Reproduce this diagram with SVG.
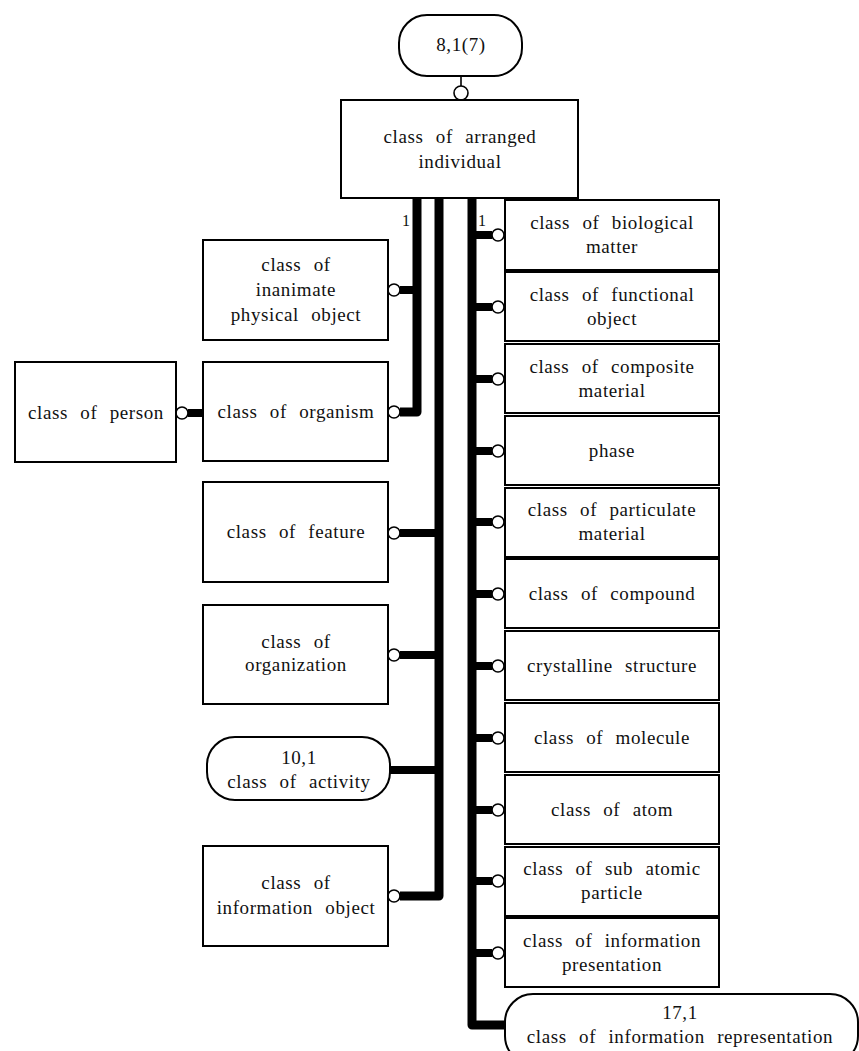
<svg xmlns="http://www.w3.org/2000/svg" width="859" height="1051" viewBox="0 0 859 1051">
<style>
.box{fill:#fff;stroke:#000;stroke-width:2}
.t{font-family:"Liberation Serif","Times New Roman",serif;font-size:19px;fill:#111;letter-spacing:0.6px;word-spacing:7px;text-anchor:middle}
.n{font-family:"Liberation Serif","Times New Roman",serif;font-size:16px;fill:#111}
.bar{fill:none;stroke:#000;stroke-width:9;stroke-linejoin:round;stroke-linecap:butt}
.stub{fill:none;stroke:#000;stroke-width:8;stroke-linecap:butt}
.ring{fill:#fff;stroke:#000;stroke-width:1.6}
</style>
<rect width="859" height="1051" fill="#fff"/>

<g id="connectors">
  <line x1="461" y1="76" x2="461" y2="86" stroke="#000" stroke-width="1.6"/>
  <circle class="ring" cx="461" cy="93" r="7"/>
  <path class="bar" d="M417,198 V412 H400"/>
  <path class="bar" d="M439,198 V896 H400"/>
  <path class="bar" d="M472,198 V1025 H505"/>
  <line class="stub" x1="417" y1="290" x2="400" y2="290"/>
  <line class="stub" x1="439" y1="533" x2="400" y2="533"/>
  <line class="stub" x1="439" y1="655" x2="400" y2="655"/>
  <line class="stub" x1="439" y1="770" x2="390" y2="770"/>
  <line class="stub" x1="188" y1="413" x2="202" y2="413" stroke-linecap="round"/>
  <g id="right-stubs">
    <line class="stub" x1="472" y1="235" x2="492" y2="235"/>
    <line class="stub" x1="472" y1="307" x2="492" y2="307"/>
    <line class="stub" x1="472" y1="379" x2="492" y2="379"/>
    <line class="stub" x1="472" y1="451" x2="492" y2="451"/>
    <line class="stub" x1="472" y1="522" x2="492" y2="522"/>
    <line class="stub" x1="472" y1="594" x2="492" y2="594"/>
    <line class="stub" x1="472" y1="666" x2="492" y2="666"/>
    <line class="stub" x1="472" y1="738" x2="492" y2="738"/>
    <line class="stub" x1="472" y1="810" x2="492" y2="810"/>
    <line class="stub" x1="472" y1="881" x2="492" y2="881"/>
    <line class="stub" x1="472" y1="953" x2="492" y2="953"/>
  </g>
  <g id="rings">
    <circle class="ring" cx="394" cy="290" r="6"/>
    <circle class="ring" cx="394" cy="412" r="6"/>
    <circle class="ring" cx="394" cy="533" r="6"/>
    <circle class="ring" cx="394" cy="655" r="6"/>
    <circle class="ring" cx="394" cy="896" r="6"/>
    <circle class="ring" cx="182" cy="413" r="6"/>
    <circle class="ring" cx="498" cy="235" r="6"/>
    <circle class="ring" cx="498" cy="307" r="6"/>
    <circle class="ring" cx="498" cy="379" r="6"/>
    <circle class="ring" cx="498" cy="451" r="6"/>
    <circle class="ring" cx="498" cy="522" r="6"/>
    <circle class="ring" cx="498" cy="594" r="6"/>
    <circle class="ring" cx="498" cy="666" r="6"/>
    <circle class="ring" cx="498" cy="738" r="6"/>
    <circle class="ring" cx="498" cy="810" r="6"/>
    <circle class="ring" cx="498" cy="881" r="6"/>
    <circle class="ring" cx="498" cy="953" r="6"/>
  </g>
  <text class="n" x="402" y="226">1</text>
  <text class="n" x="478" y="226">1</text>
</g>

<g id="n-top"><rect class="box" x="399" y="15" width="123" height="61" rx="28"/><text class="t" x="461" y="51">8,1(7)</text></g>
<g id="n-arranged"><rect class="box" x="341" y="100" width="237" height="98"/><text class="t" x="460" y="143">class of arranged</text><text class="t" x="460" y="168">individual</text></g>

<g id="n-inanimate"><rect class="box" x="203" y="240" width="185" height="100"/><text class="t" x="296" y="271">class of</text><text class="t" x="296" y="296">inanimate</text><text class="t" x="296" y="321">physical object</text></g>
<g id="n-organism"><rect class="box" x="203" y="362" width="185" height="99"/><text class="t" x="296" y="418">class of organism</text></g>
<g id="n-person"><rect class="box" x="15" y="362" width="161" height="100"/><text class="t" x="96" y="419">class of person</text></g>
<g id="n-feature"><rect class="box" x="203" y="482" width="185" height="100"/><text class="t" x="296" y="538">class of feature</text></g>
<g id="n-organization"><rect class="box" x="203" y="605" width="185" height="99"/><text class="t" x="296" y="648">class of</text><text class="t" x="296" y="671">organization</text></g>
<g id="n-activity"><rect class="box" x="207" y="737" width="183" height="63" rx="28"/><text class="t" x="299" y="764">10,1</text><text class="t" x="299" y="788">class of activity</text></g>
<g id="n-infoobject"><rect class="box" x="203" y="846" width="185" height="100"/><text class="t" x="296" y="889">class of</text><text class="t" x="296" y="914">information object</text></g>

<g id="n-biological"><rect class="box" x="505" y="200" width="214" height="70"/><text class="t" x="612" y="229">class of biological</text><text class="t" x="612" y="253">matter</text></g>
<g id="n-functional"><rect class="box" x="505" y="272" width="214" height="69"/><text class="t" x="612" y="301">class of functional</text><text class="t" x="612" y="325">object</text></g>
<g id="n-composite"><rect class="box" x="505" y="344" width="214" height="69"/><text class="t" x="612" y="373">class of composite</text><text class="t" x="612" y="397">material</text></g>
<g id="n-phase"><rect class="box" x="505" y="416" width="214" height="69"/><text class="t" x="612" y="457">phase</text></g>
<g id="n-particulate"><rect class="box" x="505" y="488" width="214" height="69"/><text class="t" x="612" y="516">class of particulate</text><text class="t" x="612" y="540">material</text></g>
<g id="n-compound"><rect class="box" x="505" y="559" width="214" height="69"/><text class="t" x="612" y="600">class of compound</text></g>
<g id="n-crystalline"><rect class="box" x="505" y="631" width="214" height="69"/><text class="t" x="612" y="672">crystalline structure</text></g>
<g id="n-molecule"><rect class="box" x="505" y="703" width="214" height="69"/><text class="t" x="612" y="744">class of molecule</text></g>
<g id="n-atom"><rect class="box" x="505" y="775" width="214" height="69"/><text class="t" x="612" y="816">class of atom</text></g>
<g id="n-subatomic"><rect class="box" x="505" y="847" width="214" height="69"/><text class="t" x="612" y="875">class of sub atomic</text><text class="t" x="612" y="899">particle</text></g>
<g id="n-infopresentation"><rect class="box" x="505" y="918" width="214" height="69"/><text class="t" x="612" y="947">class of information</text><text class="t" x="612" y="971">presentation</text></g>
<g id="n-inforepresentation"><rect class="box" x="505" y="994" width="353" height="70" rx="28"/><text class="t" x="680" y="1019">17,1</text><text class="t" x="680" y="1043">class of information representation</text></g>
</svg>
